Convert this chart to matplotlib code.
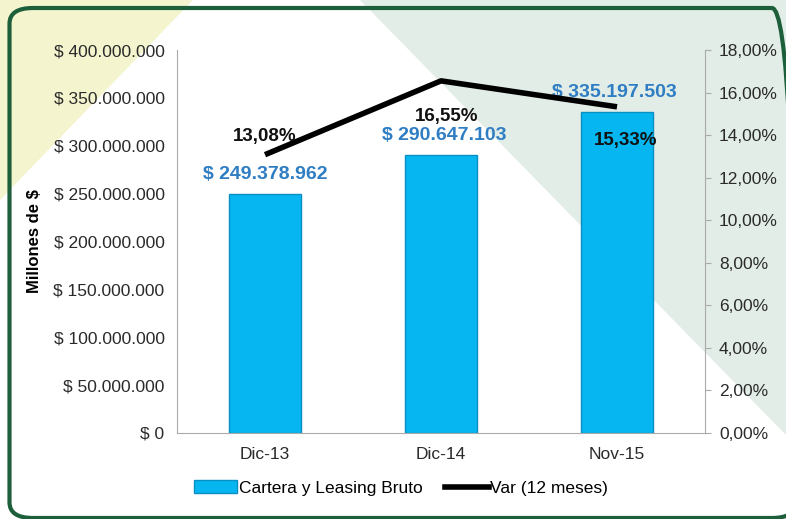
import matplotlib.pyplot as plt
from matplotlib.patches import Polygon, FancyBboxPatch
from matplotlib.lines import Line2D
from matplotlib.patches import Patch
from matplotlib.ticker import FuncFormatter

plt.rcParams['font.family'] = ['Liberation Sans', 'DejaVu Sans']

periodos = ['Dic-13', 'Dic-14', 'Nov-15']
cartera = [249378962, 290647103, 335197503]
var_12m = [13.08, 16.55, 15.33]
cartera_lbl = ['$ 249.378.962', '$ 290.647.103', '$ 335.197.503']
var_lbl = ['13,08%', '16,55%', '15,33%']

W, H = 786, 519
fig = plt.figure(figsize=(7.86, 5.19), dpi=100)

def px(pts):
    return [(x / W, 1 - y / H) for x, y in pts]

# background shapes
fig.patches.append(Polygon(px([(0, 0), (193, 0), (0, 200)]), closed=True,
                           transform=fig.transFigure, facecolor='#f4f5cf', edgecolor='none', zorder=-3))
fig.patches.append(Polygon(px([(360, 0), (786, 0), (786, 435)]), closed=True,
                           transform=fig.transFigure, facecolor='#e1ede6', edgecolor='none', zorder=-3))
fig.patches.append(FancyBboxPatch((9.5 / W, 1 - 518 / H), 1.0, 510 / H,
                                  boxstyle='round,pad=0,rounding_size=0.03',
                                  transform=fig.transFigure, facecolor='none',
                                  edgecolor='#1d5e3b', linewidth=3, zorder=-2))

ax = fig.add_axes([177 / W, 1 - 433 / H, 528 / W, 383 / H])
ax.patch.set_alpha(0)
x = range(len(periodos))
ax.bar(x, cartera, width=0.41, color='#05b6f1', edgecolor='#0a8fc2', linewidth=1, zorder=2)
ax.set_xlim(-0.5, 2.5)
ax.set_ylim(0, 400000000)
ax.set_yticks(range(0, 400000001, 50000000))
ax.yaxis.set_major_formatter(FuncFormatter(lambda v, p: '$ ' + f'{int(v):,}'.replace(',', '.')))
ax.set_xticks(list(x))
ax.set_xticklabels(periodos)
ax.tick_params(axis='y', length=0, labelsize=12.5, labelcolor='#2a2a2a', pad=9)
ax.tick_params(axis='x', length=0, labelsize=12.5, labelcolor='#2a2a2a', pad=10)
ax.set_ylabel('Millones de $', fontsize=12, fontweight='bold', labelpad=8)
for s in ['top', 'right']:
    ax.spines[s].set_visible(False)
for s in ['left', 'bottom']:
    ax.spines[s].set_color('#aaaaaa')

offs_bar = [0, 2, -2]
for i, v in enumerate(cartera):
    ax.annotate(cartera_lbl[i], (i, v), xytext=(offs_bar[i], 14), textcoords='offset points',
                ha='center', va='center', color='#2f7dc2', fontsize=14, fontweight='bold', zorder=5)

ax2 = ax.twinx()
ax2.plot(list(x), var_12m, color='black', linewidth=4, solid_capstyle='butt', zorder=3)
ax2.set_ylim(0, 18)
ax2.set_yticks(range(0, 19, 2))
ax2.yaxis.set_major_formatter(FuncFormatter(lambda v, p: f'{v:.2f}'.replace('.', ',') + '%'))
ax2.tick_params(axis='y', length=4, color='#aaaaaa', labelsize=12.5, labelcolor='#2a2a2a', pad=6)
for s in ['top', 'left', 'bottom']:
    ax2.spines[s].set_visible(False)
ax2.spines['right'].set_color('#aaaaaa')

offs_var = [(0, 13), (4, -26), (6, -24)]
for i, v in enumerate(var_12m):
    ax2.annotate(var_lbl[i], (i, v), xytext=offs_var[i], textcoords='offset points',
                 ha='center', va='center', color='#111111', fontsize=13.5, fontweight='bold', zorder=5)

handles = [Patch(facecolor='#05b6f1', edgecolor='#0a8fc2'),
           Line2D([0], [0], color='black', linewidth=4)]
fig.legend(handles, ['Cartera y Leasing Bruto', 'Var (12 meses)'], loc='center',
           bbox_to_anchor=(401 / W, 1 - 488 / H), ncol=2, frameon=False, fontsize=12.5,
           handlelength=2.5, handletextpad=0.1, columnspacing=1.3)

fig.savefig('out.png', dpi=100)
